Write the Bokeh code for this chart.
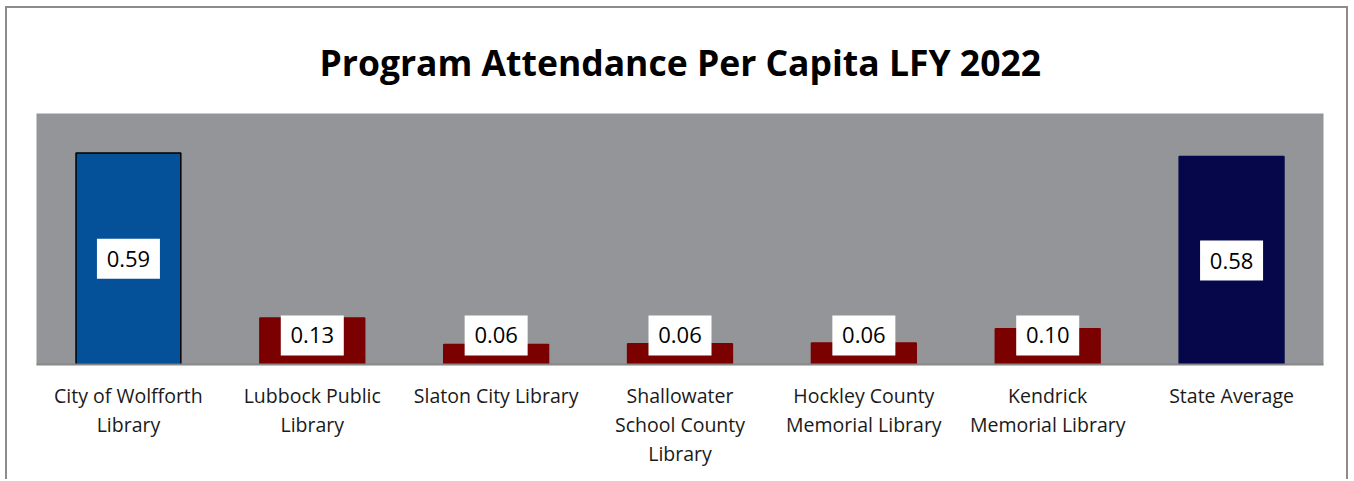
from bokeh.plotting import figure
from bokeh.models import ColumnDataSource, Range1d
from bokeh.core.properties import value
from bokeh.embed import file_html
from bokeh.resources import INLINE

categories = ["City of Wolfforth\nLibrary", "Lubbock Public\nLibrary", "Slaton City Library",
              "Shallowater\nSchool County\nLibrary", "Hockley County\nMemorial Library",
              "Kendrick\nMemorial Library", "State Average"]
values = [0.59, 0.13, 0.056, 0.058, 0.06, 0.10, 0.58]
value_labels = ["0.59", "0.13", "0.06", "0.06", "0.06", "0.10", "0.58"]
colors = ["#045199", "#7B0000", "#7B0000", "#7B0000", "#7B0000", "#7B0000", "#06064A"]
outlines = ["#000000", None, None, None, None, None, None]

label_y = [max(v / 2, 0.081) for v in values]

src = ColumnDataSource(dict(cat=categories, val=values, txt=value_labels, col=colors,
                            lc=[c if c else col for c, col in zip(outlines, colors)],
                            ly=label_y))

W, H = 1343, 473
p = figure(x_range=categories, width=W, height=H, output_backend="svg", toolbar_location=None,
           min_border_left=29, min_border_right=27, min_border_top=105, min_border_bottom=117,
           title="Program Attendance Per Capita LFY 2022")
p.margin = (6, 0, 0, 5)
p.y_range = Range1d(0, 0.70)
p.background_fill_color = "#939598"
p.border_fill_color = "white"
p.outline_line_color = None
p.grid.visible = False
p.yaxis.visible = False
p.x_range.range_padding = 0

p.title.align = "left"
p.title.text_font = "Open Sans"
p.title.text_font_style = "bold"
p.title.text_font_size = "35.5px"
p.title.text_color = "black"
p.title.standoff = 55
p.title.offset = 283

p.vbar(x="cat", top="val", width=0.57, fill_color="col", line_color="lc", line_width=1.5, source=src)

p.rect(x="cat", y="ly", width=63, height=40, width_units="screen", height_units="screen",
       fill_color="white", line_color=None, source=src)
p.text(x="cat", y="ly", text="txt", text_align="center", text_baseline="middle",
       text_font=value("Open Sans"), text_font_size="22px", text_color="black", source=src)

xa = p.xaxis[0]
xa.axis_line_color = "#888888"
xa.axis_line_width = 2
xa.major_tick_line_color = None
xa.minor_tick_line_color = None
xa.major_label_text_font = "Open Sans"
xa.major_label_text_font_size = "19.5px"
xa.major_label_text_color = "#1a1a1a"
xa.major_label_standoff = 11
xa.major_label_text_line_height = 1.08
xa.major_label_orientation = "horizontal"

p.styles = {"border": "2px solid #8c8c8c", "border-bottom": "none", "box-sizing": "border-box"}

open("out.html", "w").write(file_html(p, INLINE))
